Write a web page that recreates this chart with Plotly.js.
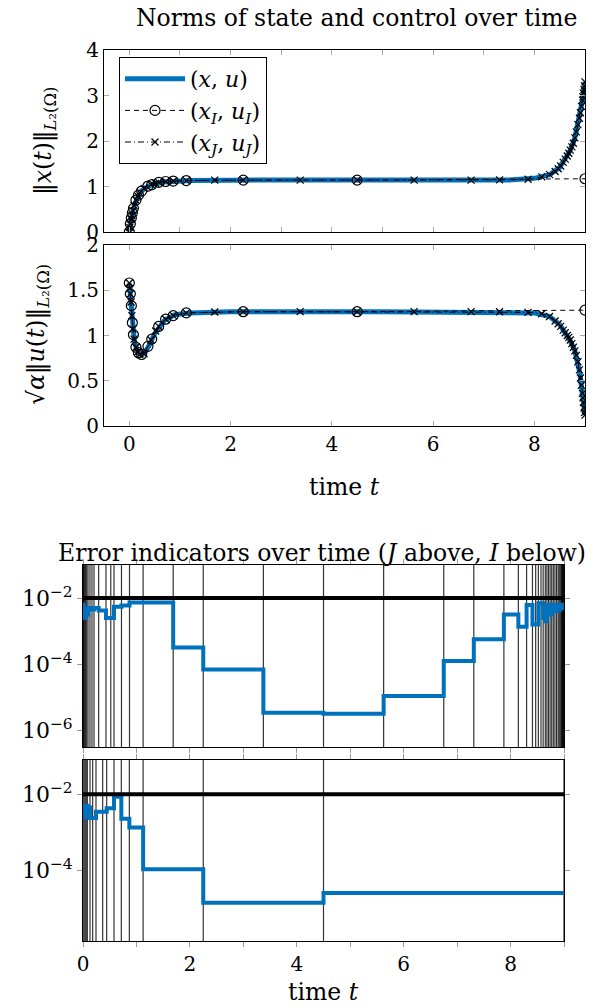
<!DOCTYPE html>
<html>
<head>
<meta charset="utf-8">
<script src="https://cdn.plot.ly/plotly-3.0.1.min.js"></script>
<style>html,body{margin:0;padding:0;background:#fff;}#chart{width:604px;height:1008px;}</style>
</head>
<body>
<div id="chart"></div>
<script>
// ---- data ----
// J grid (fine near both ends) nodes
const tJ = [0, 0.01, 0.02, 0.035, 0.05, 0.07, 0.094, 0.131, 0.168, 0.206, 0.293, 0.43, 0.52, 0.58, 0.72, 0.87, 1.125, 1.6875, 2.25, 3.375, 4.5, 5.625, 6.75, 7.3125, 7.875, 8.146, 8.30, 8.41, 8.47, 8.52, 8.57, 8.61, 8.65, 8.68, 8.71, 8.74, 8.77, 8.80, 8.83, 8.86, 8.89, 8.91, 8.93, 8.95, 8.96, 8.97, 8.98, 8.99, 9];
// error indicator per J interval
const etaJ = [6.3e-3, 3.2e-3, 5.0e-3, 2.5e-3, 4.0e-3, 3.2e-3, 5.0e-3, 5.0e-3, 4.5e-3, 5.0e-3, 4.2e-3, 2.5e-3, 2.5e-3, 5.5e-3, 6.0e-3, 7.4e-3, 7.4e-3, 3.2e-4, 7.0e-5, 3.4e-6, 3.2e-6, 1.1e-5, 1.26e-4, 5.7e-4, 3.2e-3, 1.35e-3, 6.2e-3, 1.6e-3, 1.6e-3, 7.0e-3, 7.0e-3, 2.5e-3, 2.0e-3, 5.0e-3, 6.3e-3, 3.2e-3, 5.0e-3, 6.3e-3, 4.0e-3, 5.0e-3, 6.3e-3, 4.5e-3, 5.6e-3, 5.0e-3, 6.3e-3, 5.0e-3, 5.6e-3, 6.3e-3];
const xJ = [0, 0.1, 0.18, 0.28, 0.36, 0.47, 0.58, 0.7, 0.79, 0.86, 0.96, 1.04, 1.07, 1.09, 1.11, 1.12, 1.13, 1.14, 1.14, 1.14, 1.14, 1.14, 1.14, 1.145, 1.16, 1.21, 1.26, 1.33, 1.39, 1.45, 1.53, 1.6, 1.67, 1.73, 1.8, 1.87, 1.95, 2.07, 2.2, 2.36, 2.5, 2.62, 2.76, 2.9, 2.97, 3.05, 3.13, 3.21, 3.3];
const uJ = [1.58, 1.52, 1.46, 1.37, 1.22, 1.07, 0.96, 0.87, 0.82, 0.79, 0.8, 0.95, 1.05, 1.1, 1.18, 1.22, 1.25, 1.26, 1.263, 1.263, 1.263, 1.263, 1.263, 1.262, 1.255, 1.24, 1.21, 1.16, 1.13, 1.10, 1.06, 1.03, 1.0, 0.98, 0.95, 0.91, 0.87, 0.83, 0.78, 0.71, 0.62, 0.53, 0.45, 0.36, 0.31, 0.26, 0.2, 0.15, 0.12];

// I grid (fine near start only) nodes
const tI = [0, 0.02, 0.04, 0.06, 0.081, 0.131, 0.181, 0.243, 0.368, 0.443, 0.58, 0.717, 0.867, 1.125, 2.25, 4.5, 9];
const etaI = [5.0e-3, 4.0e-3, 2.5e-3, 5.0e-3, 4.5e-3, 2.4e-3, 2.4e-3, 3.5e-3, 3.5e-3, 4.3e-3, 8.7e-3, 2.3e-3, 1.35e-3, 1.1e-4, 1.45e-5, 2.6e-5];
const xI = [0, 0.18, 0.31, 0.42, 0.52, 0.7, 0.81, 0.9, 1.01, 1.04, 1.09, 1.11, 1.12, 1.13, 1.14, 1.14, 1.17];
const uI = [1.58, 1.46, 1.33, 1.14, 1.01, 0.87, 0.81, 0.79, 0.88, 0.96, 1.1, 1.18, 1.22, 1.25, 1.263, 1.263, 1.28];

// reference solution (x,u)
const tRef = [0, 0.02, 0.05, 0.1, 0.15, 0.2, 0.25, 0.3, 0.4, 0.5, 0.7, 0.9, 1.2, 2, 5, 7.5, 8, 8.3, 8.5, 8.7, 8.8, 8.9, 8.95, 9];
const xRef = [0, 0.18, 0.36, 0.6, 0.74, 0.84, 0.91, 0.96, 1.02, 1.06, 1.1, 1.12, 1.13, 1.14, 1.14, 1.145, 1.18, 1.26, 1.42, 1.78, 2.07, 2.56, 2.9, 3.3];
const uRef = [1.58, 1.46, 1.22, 0.94, 0.84, 0.8, 0.785, 0.8, 0.9, 1.02, 1.17, 1.23, 1.25, 1.262, 1.263, 1.262, 1.25, 1.21, 1.12, 0.95, 0.83, 0.58, 0.36, 0.12];

const tol = 1e-2;
const T = 9;

// ---- styling ----
const FONT = 'DejaVu Serif, Liberation Serif, serif';
const BLUE = '#0072bd';
const W = 604, H = 1008;
const px = v => v / W, py = v => 1 - v / H;
const TXT = 23.5;

function stepXY(nodes, vals) {
  const x = nodes.slice(0, vals.length).concat([nodes[nodes.length - 1]]);
  const y = vals.concat([vals[vals.length - 1]]);
  return {x, y};
}
const sJ = stepXY(tJ, etaJ), sI = stepXY(tI, etaI);

const dashI = '5px,4px', dashJ = '6px,3px,1px,3px';
const traces = [
  // panel 1: state norms
  {x: tRef, y: xRef, xaxis: 'x', yaxis: 'y', mode: 'lines', name: '(<i>x</i>, <i>u</i>)', legendgroup: 'a',
   line: {color: BLUE, width: 5}},
  {x: tI, y: xI, xaxis: 'x', yaxis: 'y', mode: 'lines+markers', name: '(<i>x<sub>I</sub></i>, <i>u<sub>I</sub></i>)', legendgroup: 'b',
   line: {color: 'black', width: 1, dash: dashI}, marker: {symbol: 'circle-open', size: 10, color: 'black', line: {width: 1.2}}},
  {x: tJ, y: xJ, xaxis: 'x', yaxis: 'y', mode: 'lines+markers', name: '(<i>x<sub>J</sub></i>, <i>u<sub>J</sub></i>)', legendgroup: 'c',
   line: {color: 'black', width: 1, dash: dashJ}, marker: {symbol: 'x-thin-open', size: 7, color: 'black', line: {width: 1.2}}},
  // panel 2: control norms
  {x: tRef, y: uRef, xaxis: 'x2', yaxis: 'y2', mode: 'lines', showlegend: false, line: {color: BLUE, width: 5}},
  {x: tI, y: uI, xaxis: 'x2', yaxis: 'y2', mode: 'lines+markers', showlegend: false,
   line: {color: 'black', width: 1, dash: dashI}, marker: {symbol: 'circle-open', size: 10, color: 'black', line: {width: 1.2}}},
  {x: tJ, y: uJ, xaxis: 'x2', yaxis: 'y2', mode: 'lines+markers', showlegend: false,
   line: {color: 'black', width: 1, dash: dashJ}, marker: {symbol: 'x-thin-open', size: 7, color: 'black', line: {width: 1.2}}},
  // panel 3: J indicators
  {x: sJ.x, y: sJ.y, xaxis: 'x3', yaxis: 'y3', mode: 'lines', showlegend: false, line: {color: BLUE, width: 4, shape: 'hv'}},
  {x: [0, T], y: [tol, tol], xaxis: 'x3', yaxis: 'y3', mode: 'lines', showlegend: false, line: {color: 'black', width: 4}},
  // panel 4: I indicators
  {x: sI.x, y: sI.y, xaxis: 'x4', yaxis: 'y4', mode: 'lines', showlegend: false, line: {color: BLUE, width: 4, shape: 'hv'}},
  {x: [0, T], y: [tol, tol], xaxis: 'x4', yaxis: 'y4', mode: 'lines', showlegend: false, line: {color: 'black', width: 4}}
];

const shapes = [];
const gridLine = {color: 'rgba(0,0,0,0.8)', width: 1.2};
tJ.forEach(t => shapes.push({type: 'line', xref: 'x3', yref: 'y3 domain', x0: t, x1: t, y0: 0, y1: 1, layer: 'below', line: gridLine}));
tI.forEach(t => shapes.push({type: 'line', xref: 'x4', yref: 'y4 domain', x0: t, x1: t, y0: 0, y1: 1, layer: 'below', line: gridLine}));

const tickFont = {family: FONT, size: 20, color: 'black'};
const logTickFont = {family: FONT, size: 22, color: 'black'};
const boxAx = {showline: true, linecolor: 'black', linewidth: 1, mirror: 'ticks', showgrid: false, zeroline: false,
  ticklen: 5, tickwidth: 1, tickfont: tickFont};

const supLabels = ['10<sup>−6</sup>', '10<sup>−4</sup>', '10<sup>−2</sup>'];

const layout = {
  width: W, height: H, autosize: false,
  margin: {l: 0, r: 0, t: 0, b: 0},
  paper_bgcolor: 'white', plot_bgcolor: 'white',
  font: {family: FONT, size: 20, color: 'black'},
  showlegend: true,
  legend: {x: px(119), y: py(57), xanchor: 'left', yanchor: 'top', bordercolor: 'black', borderwidth: 1, bgcolor: 'white',
    font: {family: FONT, size: 22, color: 'black'}, traceorder: 'grouped', tracegroupgap: 0, itemwidth: 60},
  xaxis: Object.assign({}, boxAx, {domain: [px(104), px(585)], anchor: 'y', range: [-0.5, 9], dtick: 1, tick0: 0,
    ticks: 'inside', tickcolor: '#aaa', showticklabels: false}),
  yaxis: Object.assign({}, boxAx, {domain: [py(232), py(50)], anchor: 'x', range: [0, 4], dtick: 1, ticks: 'inside', tickcolor: '#aaa'}),
  xaxis2: Object.assign({}, boxAx, {domain: [px(104), px(585)], anchor: 'y2', range: [-0.5, 9], dtick: 2, tick0: 0,
    ticks: 'inside', tickcolor: '#aaa'}),
  yaxis2: Object.assign({}, boxAx, {domain: [py(426), py(245)], anchor: 'x2', range: [0, 2], dtick: 0.5, ticks: 'inside', tickcolor: '#aaa'}),
  xaxis3: Object.assign({}, boxAx, {domain: [px(83), px(564)], anchor: 'y3', range: [0, 9], dtick: 1, tick0: 0,
    ticks: 'outside', tickcolor: '#999', showticklabels: false}),
  yaxis3: Object.assign({}, boxAx, {domain: [py(747), py(565)], anchor: 'x3', type: 'log', range: [-6.5, -1],
    tickvals: [1e-6, 1e-4, 1e-2], ticktext: supLabels, ticks: 'outside', tickcolor: '#999', tickfont: logTickFont}),
  xaxis4: Object.assign({}, boxAx, {domain: [px(83), px(564)], anchor: 'y4', range: [0, 9], dtick: 2, tick0: 0,
    ticks: 'outside', tickcolor: '#999', minor: {dtick: 1, ticks: 'outside', ticklen: 5, tickcolor: '#999'}}),
  yaxis4: Object.assign({}, boxAx, {domain: [py(941), py(760)], anchor: 'x4', type: 'log', range: [-5.84, -1.1],
    tickvals: [1e-4, 1e-2], ticktext: supLabels.slice(1), ticks: 'outside', tickcolor: '#999', tickfont: logTickFont}),
  shapes: shapes,
  annotations: [
    {text: 'Norms of state and control over time', xref: 'paper', yref: 'paper', x: px(357), y: py(18), showarrow: false,
     xanchor: 'center', yanchor: 'middle', font: {family: FONT, size: TXT}},
    {text: 'Error indicators over time (<i>J</i> above, <i>I</i> below)', xref: 'paper', yref: 'paper', x: px(322), y: py(553), showarrow: false,
     xanchor: 'center', yanchor: 'middle', font: {family: FONT, size: TXT}},
    {text: 'time <i>t</i>', xref: 'paper', yref: 'paper', x: px(344), y: py(487), showarrow: false,
     xanchor: 'center', yanchor: 'middle', font: {family: FONT, size: TXT}},
    {text: 'time <i>t</i>', xref: 'paper', yref: 'paper', x: px(323), y: 0, showarrow: false,
     xanchor: 'center', yanchor: 'bottom', font: {family: FONT, size: TXT}},
    {text: '‖<i>x</i>(<i>t</i>)‖<sub><i>L</i>₂(Ω)</sub>', xref: 'paper', yref: 'paper', x: px(45), y: py(141), showarrow: false,
     textangle: -90, xanchor: 'center', yanchor: 'middle', font: {family: FONT, size: TXT}},
    {text: '√<i>α</i>‖<i>u</i>(<i>t</i>)‖<sub><i>L</i>₂(Ω)</sub>', xref: 'paper', yref: 'paper', x: px(38), y: py(335), showarrow: false,
     textangle: -90, xanchor: 'center', yanchor: 'middle', font: {family: FONT, size: TXT}}
  ]
};

Plotly.newPlot('chart', traces, layout, {staticPlot: true, displayModeBar: false});
</script>
</body>
</html>
